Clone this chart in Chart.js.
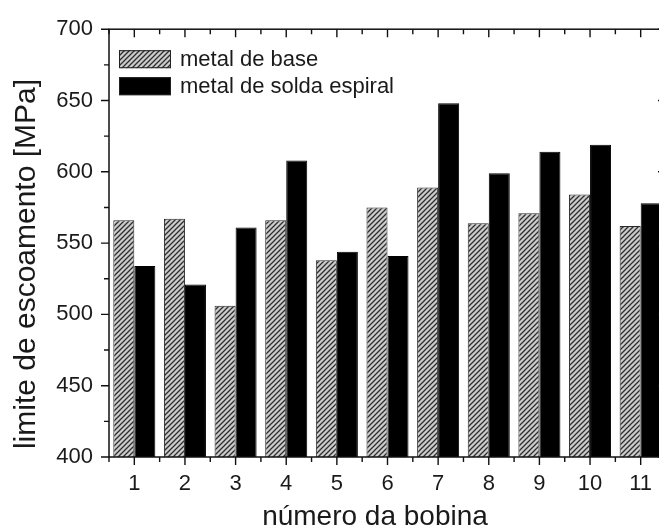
<!DOCTYPE html>
<html>
<head>
<meta charset="utf-8">
<script src="https://cdn.jsdelivr.net/npm/chart.js@4.4.1/dist/chart.umd.min.js"></script>
<style>
  html, body { margin: 0; padding: 0; background: #fff; overflow: hidden; width: 659px; height: 529px; }
  #wrap { position: absolute; left: 0; top: 0; width: 690px; height: 529px; }
</style>
</head>
<body>
<div id="wrap"><canvas id="c" width="690" height="529"></canvas></div>
<script>
// ---- data ----
const categories = ['1', '2', '3', '4', '5', '6', '7', '8', '9', '10', '11'];
const metalBase = [566, 567, 506, 566, 538, 575, 589, 564, 571, 584, 562];
const metalSolda = [534, 521, 561, 608, 544, 541, 648, 599, 614, 619, 578];
const seriesLabels = ['metal de base', 'metal de solda espiral'];
const yMin = 400, yMax = 700, yStep = 50;
const xTitle = 'número da bobina';
const yTitle = 'limite de escoamento [MPa]';

const FONT = "'Liberation Sans', Arial, sans-serif";
const canvas = document.getElementById('c');
const ctx = canvas.getContext('2d');

function makeHatch() {
  const s = 5;
  const c = document.createElement('canvas');
  c.width = s; c.height = s;
  const g = c.getContext('2d');
  g.fillStyle = '#cccccc';
  g.fillRect(0, 0, s, s);
  g.strokeStyle = '#2e2e2e';
  g.lineWidth = 1.3;
  g.beginPath();
  g.moveTo(0, s); g.lineTo(s, 0);
  g.moveTo(-1, 1); g.lineTo(1, -1);
  g.moveTo(s - 1, s + 1); g.lineTo(s + 1, s - 1);
  g.stroke();
  return ctx.createPattern(c, 'repeat');
}
const hatch = makeHatch();

const framePlugin = {
  id: 'framePlugin',
  afterDraw(chart) {
    const { ctx, chartArea: a, scales } = chart;
    const x = scales.x, y = scales.y;
    ctx.save();
    ctx.strokeStyle = '#111';
    ctx.lineWidth = 1.5;
    ctx.strokeRect(a.left, a.top, a.right - a.left, a.bottom - a.top);
    ctx.lineWidth = 1.4;
    ctx.beginPath();
    // x ticks
    const n = chart.data.labels.length;
    const centers = [];
    for (let i = 0; i < n; i++) centers.push(x.getPixelForValue(i));
    const half = (centers[1] - centers[0]) / 2;
    const bounds = [];
    for (let i = 0; i < n; i++) bounds.push(centers[i] - half);
    bounds.push(centers[n - 1] + half);
    centers.forEach(px => {
      ctx.moveTo(px, a.bottom); ctx.lineTo(px, a.bottom + 8);
      ctx.moveTo(px, a.top); ctx.lineTo(px, a.top + 8);
    });
    bounds.forEach(px => {
      ctx.moveTo(px, a.bottom); ctx.lineTo(px, a.bottom + 5);
      ctx.moveTo(px, a.top); ctx.lineTo(px, a.top + 5);
    });
    // y ticks
    for (let v = yMin; v <= yMax; v += yStep) {
      const py = y.getPixelForValue(v);
      ctx.moveTo(a.left, py); ctx.lineTo(a.left - 8, py);
      ctx.moveTo(a.right, py); ctx.lineTo(a.right - 8, py);
      if (v + yStep / 2 < yMax) {
        const pm = y.getPixelForValue(v + yStep / 2);
        ctx.moveTo(a.left, pm); ctx.lineTo(a.left - 5, pm);
        ctx.moveTo(a.right, pm); ctx.lineTo(a.right - 5, pm);
      }
    }
    ctx.stroke();

    // legend
    const ds = chart.data.datasets;
    ctx.font = '22px ' + FONT;
    ctx.textBaseline = 'middle';
    ctx.textAlign = 'left';
    const bx = a.left + 10, bw = 52, bh = 18;
    const rows = [a.top + 21, a.top + 48];
    ds.forEach((d, i) => {
      const by = rows[i];
      ctx.fillStyle = d.backgroundColor;
      ctx.fillRect(bx, by, bw, bh);
      ctx.lineWidth = 1;
      ctx.strokeStyle = '#222';
      ctx.strokeRect(bx + 0.5, by + 0.5, bw - 1, bh - 1);
      ctx.fillStyle = '#1a1a1a';
      ctx.fillText(d.label, bx + 61, by + bh / 2 + 1);
    });

    // axis titles
    ctx.fillStyle = '#1a1a1a';
    ctx.textAlign = 'center';
    ctx.textBaseline = 'alphabetic';
    ctx.font = '28px ' + FONT;
    ctx.fillText(xTitle, 375, 525);
    ctx.font = '30px ' + FONT;
    ctx.save();
    ctx.translate(35, 264);
    ctx.rotate(-Math.PI / 2);
    ctx.fillText(yTitle, 0, 0);
    ctx.restore();
    ctx.restore();
  }
};

new Chart(ctx, {
  type: 'bar',
  data: {
    labels: categories,
    datasets: [
      { label: seriesLabels[0], data: metalBase, backgroundColor: hatch, borderColor: '#2a2a2a', borderWidth: 1 },
      { label: seriesLabels[1], data: metalSolda, backgroundColor: '#000', borderColor: '#000', borderWidth: 1 }
    ]
  },
  options: {
    responsive: false,
    animation: false,
    devicePixelRatio: 1,
    layout: { padding: { left: 0, top: 24, right: 24, bottom: 0 } },
    categoryPercentage: 0.83,
    barPercentage: 1.0,
    plugins: { legend: { display: false }, tooltip: { enabled: false }, title: { display: false } },
    scales: {
      x: {
        offset: true,
        grid: { display: false, drawTicks: false },
        border: { display: false },
        ticks: { color: '#1a1a1a', font: { family: FONT, size: 22 }, padding: 14, maxRotation: 0, autoSkip: false },
        afterFit(s) { s.height = 72; }
      },
      y: {
        min: yMin, max: yMax,
        grid: { display: false, drawTicks: false },
        border: { display: false },
        ticks: { stepSize: yStep, color: '#1a1a1a', font: { family: FONT, size: 22 }, padding: 16 },
        afterFit(s) { s.width = 109; }
      }
    }
  },
  plugins: [framePlugin]
});
</script>
</body>
</html>
